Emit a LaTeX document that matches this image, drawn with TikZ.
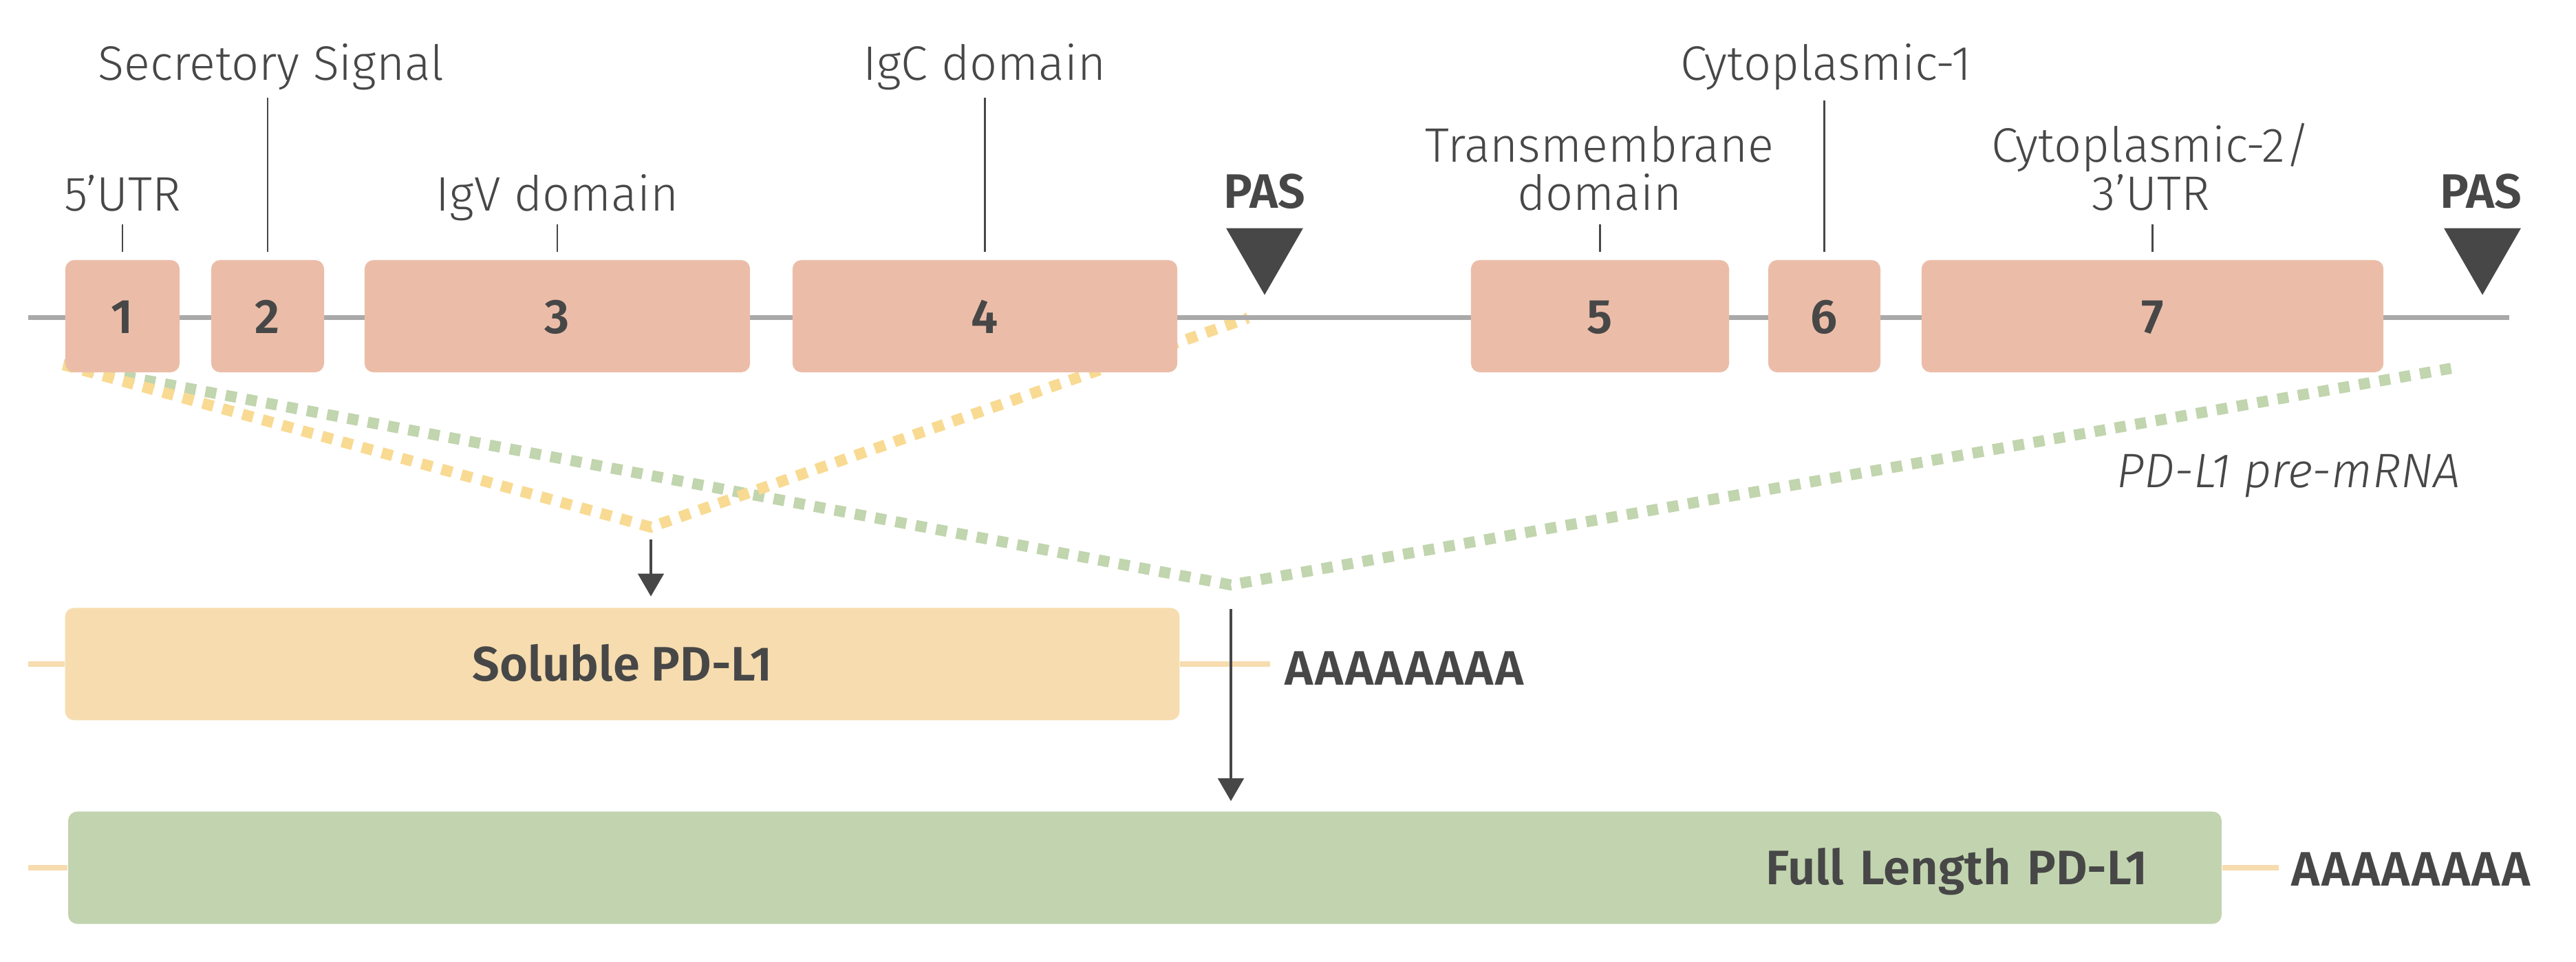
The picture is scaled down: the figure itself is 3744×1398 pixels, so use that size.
\documentclass[tikz,border=0pt]{standalone}
\usepackage{xcolor}
\usepackage{fontspec}
\setmainfont{Fira Sans}[UprightFont={* Light}, BoldFont={* SemiBold}, ItalicFont={* Light Italic}, BoldItalicFont={* SemiBold Italic}]
\usepackage{tikz}
\usetikzlibrary{shapes.geometric, arrows.meta, calc}
\definecolor{inkgray}{HTML}{474747}
\definecolor{introngray}{HTML}{A9A9A9}
\definecolor{exonpink}{HTML}{EBBDA8}
\definecolor{solyellow}{HTML}{F6DCAF}
\definecolor{fullgreen}{HTML}{C1D4AF}
\definecolor{dashyellow}{HTML}{F8DA92}
\definecolor{dashgreen}{HTML}{C1D5AE}

\begin{document}
\begin{tikzpicture}[
    x=0.01cm, y=-0.01cm,
    font=\fontsize{20}{20}\selectfont, text=inkgray,
    exon/.style={rectangle, fill=exonpink, rounded corners=0.13cm,
                 minimum height=1.63cm, inner sep=0pt,
                 text height=0.49cm, text depth=0pt, font=\fontsize{20}{20}\selectfont\bfseries},
    product/.style={rectangle, rounded corners=0.13cm,
                    minimum height=1.63cm, inner sep=0pt,
                    text height=0.49cm, text depth=0pt, font=\fontsize{20}{20}\selectfont\bfseries},
    lab/.style={inner sep=0pt, anchor=base},
    twolab/.style={inner sep=0pt, anchor=south, align=center},
    polya/.style={inner sep=0pt, anchor=base west,
                  font=\fontsize{20}{20}\selectfont\bfseries\addfontfeatures{LetterSpace=3.5}},
    leader/.style={draw=inkgray, line width=0.025cm},
    intron/.style={draw=introngray, line width=0.07cm},
    tail/.style={draw=solyellow, line width=0.075cm},
    splice/.style={line width=0.16cm, dash pattern=on 0.16cm off 0.14cm},
    pastri/.style={regular polygon, regular polygon sides=3, shape border rotate=180,
                   fill=inkgray, minimum size=1.29cm, inner sep=0pt},
    arr/.style={-{Triangle[width=0.37cm, length=0.33cm]}, draw=inkgray, line width=0.045cm}
]
    \useasboundingbox (0,0) rectangle (3744,1398);

    % splice paths (behind the exons)
    \coordinate (sp) at (92,530);
    \coordinate (yv) at (946,766);
    \coordinate (ye) at (1814,462);
    \coordinate (gv) at (1789,850);
    \coordinate (ge) at (3575,533);
    \draw[splice, draw=dashgreen] (sp) -- (gv) -- (ge);
    \draw[splice, draw=dashyellow] (sp) -- (yv) -- (ye);

    % gene line
    \coordinate (ls) at (41,462);
    \coordinate (le) at (3647,462);
    \draw[intron] (ls) -- (le);

    % Exon nodes
    \node[exon, minimum width=1.66cm] (e1) at (178,459.5) {1};
    \node[exon, minimum width=1.64cm] (e2) at (389,459.5) {2};
    \node[exon, minimum width=5.60cm] (e3) at (810,459.5) {3};
    \node[exon, minimum width=5.59cm] (e4) at (1431.5,459.5) {4};
    \node[exon, minimum width=3.75cm] (e5) at (2325.5,459.5) {5};
    \node[exon, minimum width=1.63cm] (e6) at (2651.5,459.5) {6};
    \node[exon, minimum width=6.71cm] (e7) at (3128.5,459.5) {7};

    % domain labels
    \node[lab] (utr5) at (178,307) {5’UTR};
    \node[lab] (sig) at (394,117) {Secretory Signal};
    \node[lab] (igv) at (810,307) {IgV domain};
    \node[lab] (igc) at (1431,117) {IgC domain};
    \node[twolab] (tm) at (2325,307) {Transmembrane\\domain};
    \node[lab] (cyt1) at (2654,117) {Cytoplasmic-1};
    \node[twolab] (cyt2) at (3126,307) {Cytoplasmic-2/\\3’UTR};

    \draw[leader] ([yshift=0.11cm]e1.north) -- ([yshift=-0.19cm]e1.north |- utr5.base);
    \draw[leader] ([yshift=0.11cm]e2.north) -- ([yshift=-0.25cm]e2.north |- sig.base);
    \draw[leader] ([yshift=0.11cm]e3.north) -- ([yshift=-0.19cm]e3.north |- igv.base);
    \draw[leader] ([yshift=0.11cm]e4.north) -- ([yshift=-0.25cm]e4.north |- igc.base);
    \draw[leader] ([yshift=0.11cm]e5.north) -- ([yshift=-0.19cm]e5.north |- tm.south);
    \draw[leader] ([yshift=0.11cm]e6.north) -- ([yshift=-0.29cm]e6.north |- cyt1.base);
    \draw[leader] ([yshift=0.11cm]e7.north) -- ([yshift=-0.19cm]e7.north |- cyt2.south);

    % polyadenylation sites
    \node[pastri] (pas1) at (1838,364) {};
    \node[pastri] (pas2) at (3608,364) {};
    \node[lab, font=\fontsize{20}{20}\selectfont\bfseries] (pas1lab) at (1838,303) {PAS};
    \node[lab, font=\fontsize{20}{20}\selectfont\bfseries] (pas2lab) at (3606,303) {PAS};

    \node[inner sep=0pt, anchor=base east, font=\fontsize{20}{20}\selectfont\itshape] (pre) at (3577,709) {PD-L1 pre-mRNA};

    % products
    \node[product, fill=solyellow, minimum width=16.19cm] (sol) at (904.5,965) {Soluble PD-L1};
    \node[product, fill=fullgreen, minimum width=31.28cm, text width=29.14cm,
          inner xsep=1.07cm, align=right] (full) at (1664,1261) {Full Length PD-L1};

    \node[polya] (polya1) at (1867,996) {AAAAAAAA};
    \node[polya] (polya2) at (3330,1288) {AAAAAAAA};

    \coordinate (s1) at (41,965);
    \coordinate (f1) at (41,1261);
    \draw[tail] (s1) -- (sol.west);
    \draw[tail, shorten >=0.21cm] (sol.east) -- (sol.east -| polya1.west);
    \draw[tail] (f1) -- (full.west);
    \draw[tail, shorten >=0.18cm] (full.east) -- (full.east -| polya2.west);

    % Arrows
    \draw[arr, shorten <=0.18cm, shorten >=0.16cm] (yv) -- (yv |- sol.north);
    \draw[arr, shorten <=0.35cm, shorten >=0.145cm] (gv) -- (gv |- full.north);

\end{tikzpicture}
\end{document}
